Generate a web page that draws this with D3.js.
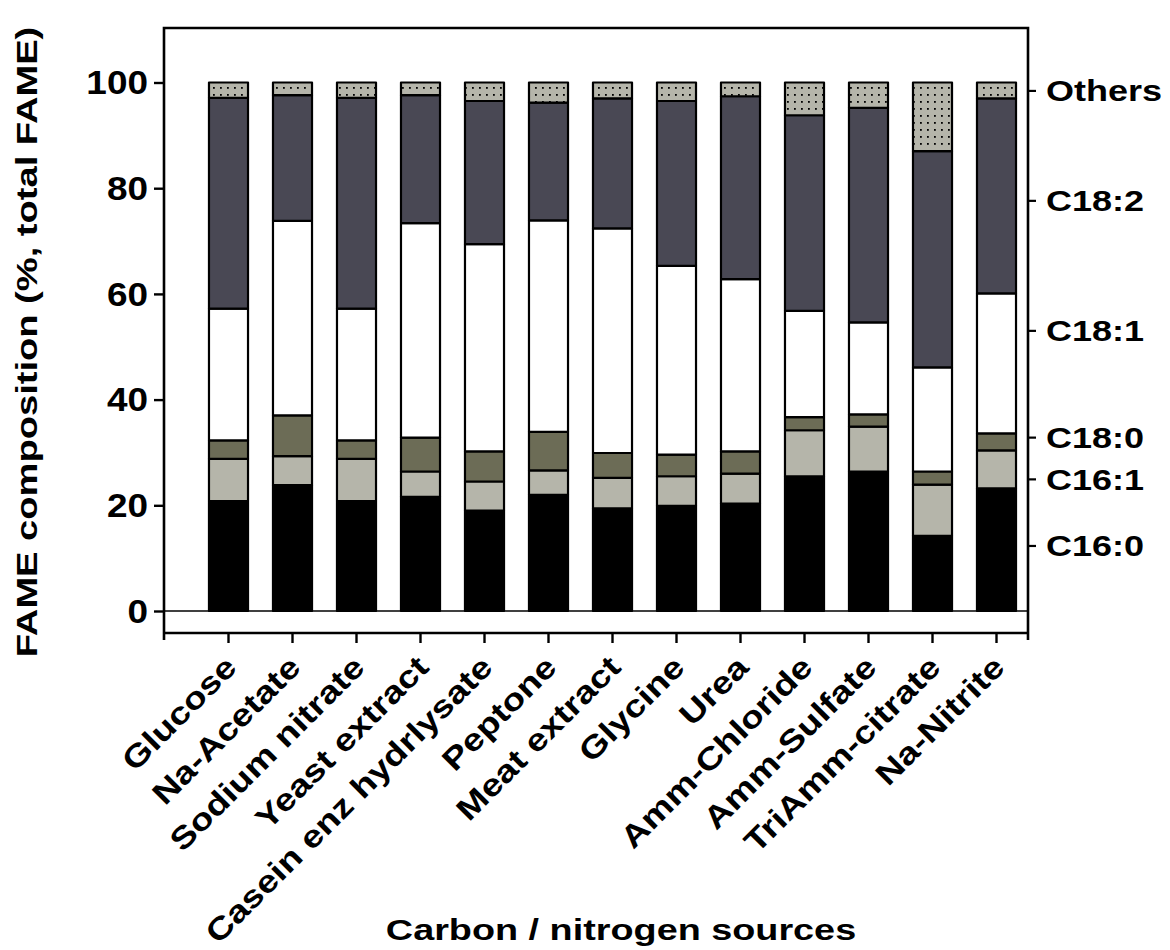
<!DOCTYPE html>
<html>
<head>
<meta charset="utf-8">
<script src="https://cdn.jsdelivr.net/npm/d3@7"></script>
<style>
  body { margin: 0; background: #fff; }
  svg { display: block; }
  text { font-family: "Liberation Sans", Arial, Helvetica, sans-serif; font-weight: bold; fill: #000; }
</style>
</head>
<body>
<svg id="chart" width="1170" height="950"></svg>
<script>
// Carbon / nitrogen sources on the x axis
const categories = ["Glucose", "Na-Acetate", "Sodium nitrate", "Yeast extract", "Casein enz hydrlysate",
  "Peptone", "Meat extract", "Glycine", "Urea", "Amm-Chloride", "Amm-Sulfate", "TriAmm-citrate", "Na-Nitrite"];

// FAME composition, % of total FAME, per fatty acid
const c16_0  = [20.8, 23.8, 20.8, 21.6, 19.0, 22.0, 19.4, 19.9, 20.3, 25.5, 26.4, 14.2, 23.2];
const c16_1  = [ 8.0,  5.5,  8.0,  4.8,  5.5,  4.6,  5.8,  5.6,  5.7,  8.7,  8.5,  9.7,  7.2];
const c18_0  = [ 3.5,  7.7,  3.5,  6.4,  5.7,  7.3,  4.7,  4.1,  4.2,  2.5,  2.3,  2.5,  3.2];
const c18_1  = [24.9, 36.8, 24.9, 40.6, 39.2, 40.0, 42.5, 35.7, 32.6, 20.1, 17.4, 19.7, 26.5];
const c18_2  = [39.9, 23.8, 39.9, 24.2, 27.1, 22.3, 24.6, 31.2, 34.6, 37.0, 40.6, 40.9, 36.9];
const others = [ 2.9,  2.4,  2.9,  2.4,  3.5,  3.8,  3.0,  3.5,  2.6,  6.2,  4.8, 13.0,  3.0];

const seriesNames = ["C16:0", "C16:1", "C18:0", "C18:1", "C18:2", "Others"];
const seriesValues = [c16_0, c16_1, c18_0, c18_1, c18_2, others];

// Left axis ticks and the right-hand series labels (placed at these levels)
const yTicks = [0, 20, 40, 60, 80, 100];
const seriesLabelLevels = [12.4, 25.0, 32.9, 53.1, 77.7, 98.5];

const fills = {
  "C16:0": "#000000",
  "C16:1": "#b5b5aa",
  "C18:0": "#6c6c56",
  "C18:1": "#ffffff",
  "C18:2": "#494854",
  "Others": "url(#dots)"
};

const frame = { left: 164, right: 1028, top: 28, bottom: 633 };

const rows = categories.map((c, i) => {
  const r = { source: c };
  seriesNames.forEach((s, k) => { r[s] = seriesValues[k][i]; });
  return r;
});
const stacked = d3.stack().keys(seriesNames)(rows);

const x = d3.scaleBand().domain(categories)
  .range([196.5, 1028.5]).paddingInner(0.39).paddingOuter(0.195);
const y = d3.scaleLinear().domain([0, 100]).range([611, 82.5]);

const svg = d3.select("#chart");

// dotted fill for "Others"
const defs = svg.append("defs");
const pat = defs.append("pattern").attr("id", "dots")
  .attr("patternUnits", "userSpaceOnUse").attr("width", 7).attr("height", 7);
pat.append("rect").attr("width", 7).attr("height", 7).attr("fill", "#b5b5aa");
pat.append("rect").attr("x", 3).attr("y", 3).attr("width", 1.8).attr("height", 1.8).attr("fill", "#000");

// zero reference line
svg.append("line")
  .attr("x1", frame.left).attr("x2", frame.right)
  .attr("y1", y(0)).attr("y2", y(0))
  .attr("stroke", "#000").attr("stroke-width", 1.3);

// stacked bars
svg.append("g").selectAll("g").data(stacked).join("g")
  .attr("fill", d => fills[d.key])
  .selectAll("rect").data(d => d).join("rect")
  .attr("x", d => x(d.data.source))
  .attr("y", d => y(d[1]))
  .attr("width", x.bandwidth())
  .attr("height", d => y(d[0]) - y(d[1]))
  .attr("stroke", "#000").attr("stroke-width", 2.2)
  .attr("stroke-linejoin", "round");

// frame
svg.append("path")
  .attr("d", `M${frame.left},${frame.bottom + 7}V${frame.top}H${frame.right}V${frame.bottom + 7}` +
             `M${frame.left},${frame.bottom}H${frame.right}`)
  .attr("fill", "none").attr("stroke", "#000").attr("stroke-width", 2.6);

// left axis ticks
const yAxis = d3.axisLeft(y).tickValues(yTicks).tickSize(10).tickFormat("");
svg.append("g").attr("transform", `translate(${frame.left},0)`).call(yAxis)
  .call(g => g.select(".domain").remove())
  .selectAll("line").attr("stroke", "#000").attr("stroke-width", 2.4);

// bottom axis ticks at band centres
const xAxis = d3.axisBottom(x).tickSize(10).tickFormat("");
svg.append("g").attr("transform", `translate(0,${frame.bottom})`).call(xAxis)
  .call(g => g.select(".domain").remove())
  .selectAll("line").attr("stroke", "#000").attr("stroke-width", 2.4);

// right-hand series ticks
const rAxis = d3.axisRight(y).tickValues(seriesLabelLevels).tickSize(8).tickFormat("");
svg.append("g").attr("transform", `translate(${frame.right},0)`).call(rAxis)
  .call(g => g.select(".domain").remove())
  .selectAll("line").attr("stroke", "#000").attr("stroke-width", 2.2);

function label(txt, tx, ty, opts) {
  const o = Object.assign({ size: 30, sx: 1.22, rot: 0, anchor: "start", dy: "0" }, opts);
  return svg.append("text")
    .attr("transform", `translate(${tx},${ty}) rotate(${o.rot}) scale(${o.sx},1)`)
    .attr("text-anchor", o.anchor)
    .attr("dy", o.dy)
    .attr("font-size", o.size)
    .text(txt);
}

// y tick labels
yTicks.forEach(v => label(String(v), 148, y(v), { size: 33, sx: 1.12, anchor: "end", dy: "0.36em" }));

// category labels
categories.forEach(c => label(c, x(c) + x.bandwidth() / 2 + 10, 669, { size: 31, sx: 1.2, rot: -45, anchor: "end" }));

// series labels on the right
seriesNames.forEach((s, i) => label(s, 1046, y(seriesLabelLevels[i]), { size: 30, sx: 1.2, dy: "0.36em" }));

// axis titles
label("FAME composition (%, total FAME)", 37, 342, { size: 30, sx: 1.27, rot: -90, anchor: "middle" });
label("Carbon / nitrogen sources", 621, 940, { size: 30, sx: 1.26, anchor: "middle" });
</script>
</body>
</html>
